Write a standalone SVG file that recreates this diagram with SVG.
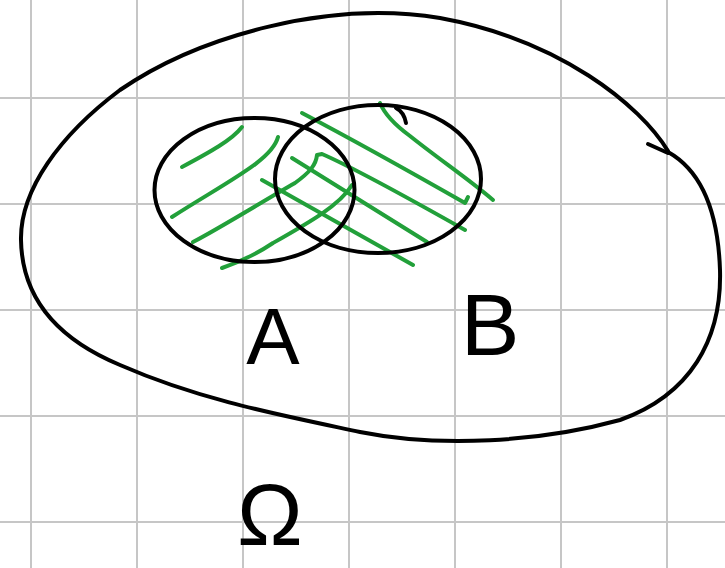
<svg xmlns="http://www.w3.org/2000/svg" width="725" height="568" viewBox="0 0 725 568">
<style>
.grid line{stroke:#c6c6c6;stroke-width:2}
.ink{fill:none;stroke:#000;stroke-width:4;stroke-linecap:round;stroke-linejoin:round}
.hatch{fill:none;stroke:#22a03a;stroke-width:4;stroke-linecap:round;stroke-linejoin:round}
.lbl{font-family:"Liberation Sans","DejaVu Sans",sans-serif;fill:#000;text-anchor:middle}
</style>
<rect width="725" height="568" fill="#fff"/>
<g class="grid">
<line x1="31" y1="0" x2="31" y2="568"/>
<line x1="137" y1="0" x2="137" y2="568"/>
<line x1="243" y1="0" x2="243" y2="568"/>
<line x1="349" y1="0" x2="349" y2="568"/>
<line x1="455" y1="0" x2="455" y2="568"/>
<line x1="561" y1="0" x2="561" y2="568"/>
<line x1="667" y1="0" x2="667" y2="568"/>
<line x1="0" y1="98" x2="725" y2="98"/>
<line x1="0" y1="204" x2="725" y2="204"/>
<line x1="0" y1="310" x2="725" y2="310"/>
<line x1="0" y1="416" x2="725" y2="416"/>
<line x1="0" y1="522" x2="725" y2="522"/>
</g>
<g id="omega-set">
<path class="ink" d="M 668 151 C 640 105, 560 40, 440 18 C 330 0, 200 35, 120 90 C 60 135, 20 190, 21 240 C 22 300, 60 340, 120 365 C 200 400, 280 415, 360 432 C 440 448, 540 442, 620 420 C 690 395, 722 340, 720 270 C 718 210, 700 170, 668 152"/>
<path class="ink" d="M 648 144 L 668 153"/>
<text class="lbl" x="270" y="545" font-size="88">Ω</text>
</g>
<g id="hatching">
<path class="hatch" d="M 242 127 C 232 140, 210 152, 182 167"/>
<path class="hatch" d="M 278 137 C 272 160, 230 180, 172 217"/>
<path class="hatch" d="M 193 242 C 220 228, 265 200, 295 183 C 310 172, 316 165, 317 155 L 322 154 C 345 164, 380 182, 465 230"/>
<path class="hatch" d="M 352 185 C 340 205, 310 222, 273 243 C 255 255, 240 262, 222 268"/>
<path class="hatch" d="M 302 113 C 340 133, 407 170, 465 203 L 468 197"/>
<path class="hatch" d="M 380 103 C 385 115, 395 125, 410 136 C 440 160, 470 180, 493 200"/>
<path class="hatch" d="M 292 158 L 427 242"/>
<path class="hatch" d="M 262 180 L 413 265"/>
</g>
<g id="set-A">
<ellipse class="ink" cx="254.5" cy="190" rx="100" ry="72"/>
<text class="lbl" x="273" y="364" font-size="80">A</text>
</g>
<g id="set-B">
<ellipse class="ink" cx="378" cy="179" rx="103" ry="74"/>
<path class="ink" d="M 396 108 Q 404 112 406 123"/>
<text class="lbl" x="490" y="355" font-size="88">B</text>
</g>
</svg>
